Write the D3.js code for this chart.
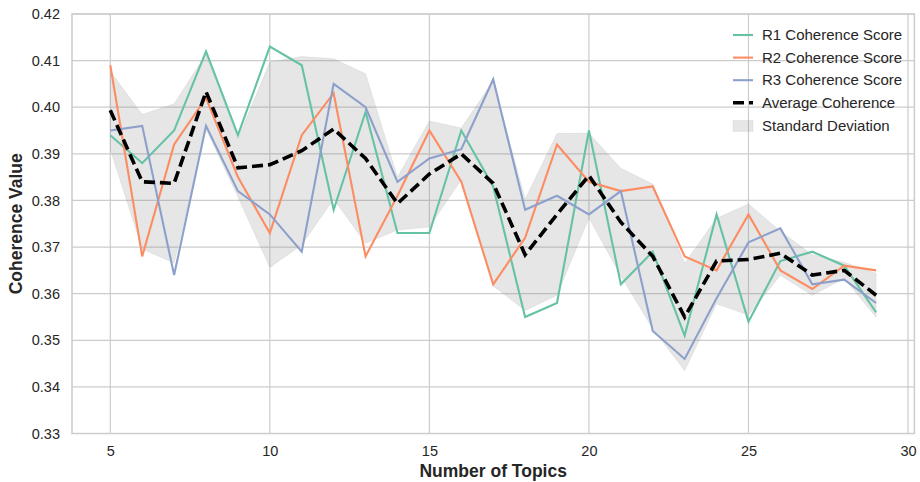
<!DOCTYPE html>
<html>
<head>
<meta charset="utf-8">
<script src="https://cdn.jsdelivr.net/npm/d3@7"></script>
<style>
  html, body { margin: 0; padding: 0; background: #fff; }
  svg { display: block; font-family: "Liberation Sans", Arial, sans-serif; }
</style>
</head>
<body>
<svg id="chart" width="920" height="482"></svg>
<script>
// ---- data ----
const topics = [5,6,7,8,9,10,11,12,13,14,15,16,17,18,19,20,21,22,23,24,25,26,27,28,29];
const r1 = [0.394,0.388,0.395,0.412,0.394,0.413,0.409,0.378,0.399,0.373,0.373,0.395,0.383,0.355,0.358,0.395,0.362,0.369,0.351,0.377,0.354,0.367,0.369,0.366,0.356];
const r2 = [0.409,0.368,0.392,0.402,0.385,0.373,0.394,0.403,0.368,0.381,0.395,0.384,0.362,0.372,0.392,0.384,0.382,0.383,0.368,0.365,0.377,0.365,0.361,0.366,0.365];
const r3 = [0.395,0.396,0.364,0.396,0.382,0.377,0.369,0.405,0.400,0.384,0.389,0.391,0.406,0.378,0.381,0.377,0.382,0.352,0.346,0.359,0.371,0.374,0.362,0.363,0.358];
const seriesNames = ["R1 Coherence Score","R2 Coherence Score","R3 Coherence Score"];
const seriesColors = ["#66c2a5","#fc8d62","#8da0cb"];
const xTicks = [5,10,15,20,25,30];
const yTicks = [0.33,0.34,0.35,0.36,0.37,0.38,0.39,0.40,0.41,0.42];

// derived: mean and sample std across runs
const runs = [r1, r2, r3];
const avg = topics.map((t,i) => d3.mean(runs, r => r[i]));
const sd = topics.map((t,i) => d3.deviation(runs, r => r[i]));

// ---- layout ----
const svg = d3.select("#chart");
const m = {left: 72, right: 5.6, top: 14, bottom: 48.5};
const W = 920, H = 482;
const x = d3.scaleLinear().domain([3.8, 30.2]).range([m.left, W - m.right]);
const y = d3.scaleLinear().domain([0.33, 0.42]).range([H - m.bottom, m.top]);
const textColor = "#262626";
const gridColor = "#cccccc";

// grid
const g = svg.append("g");
g.selectAll(".gx").data(xTicks).join("line")
  .attr("x1", d => x(d)).attr("x2", d => x(d))
  .attr("y1", y(0.33)).attr("y2", y(0.42))
  .attr("stroke", gridColor).attr("stroke-width", 1.2);
g.selectAll(".gy").data(yTicks).join("line")
  .attr("x1", x(3.8)).attr("x2", x(30.2))
  .attr("y1", d => y(d)).attr("y2", d => y(d))
  .attr("stroke", gridColor).attr("stroke-width", 1.2);

// frame
svg.append("rect")
  .attr("x", x(3.8)).attr("y", y(0.42))
  .attr("width", x(30.2) - x(3.8)).attr("height", y(0.33) - y(0.42))
  .attr("fill", "none").attr("stroke", gridColor).attr("stroke-width", 1.5);

// std band
const area = d3.area()
  .x((d,i) => x(topics[i]))
  .y0((d,i) => y(avg[i] - sd[i]))
  .y1((d,i) => y(avg[i] + sd[i]));
svg.append("path").datum(topics)
  .attr("d", area)
  .attr("fill", "gray").attr("fill-opacity", 0.2)
  .attr("stroke", "gray").attr("stroke-opacity", 0.12).attr("stroke-width", 1);

// series lines
const line = d3.line().x((d,i) => x(topics[i])).y(d => y(d));
runs.forEach((r, k) => {
  svg.append("path").datum(r)
    .attr("d", line)
    .attr("fill", "none")
    .attr("stroke", seriesColors[k])
    .attr("stroke-width", 2.1)
    .attr("stroke-linejoin", "miter");
});

// average
svg.append("path").datum(avg)
  .attr("d", line)
  .attr("fill", "none")
  .attr("stroke", "#000")
  .attr("stroke-width", 3.6)
  .attr("stroke-dasharray", "11,5");

// axes tick labels
const xAxis = d3.axisBottom(x).tickValues(xTicks).tickFormat(d3.format("d")).tickSize(0).tickPadding(12);
const xg = svg.append("g").attr("transform", `translate(0,${y(0.33)})`).call(xAxis);
xg.select(".domain").remove();
xg.selectAll("text").attr("fill", textColor).style("font-size", "14.5px").style("font-family", "Liberation Sans, Arial, sans-serif");

const yAxis = d3.axisLeft(y).tickValues(yTicks).tickFormat(d3.format(".2f")).tickSize(0).tickPadding(12);
const yg = svg.append("g").attr("transform", `translate(${x(3.8)},0)`).call(yAxis);
yg.select(".domain").remove();
yg.selectAll("text").attr("fill", textColor).style("font-size", "14.5px").style("font-family", "Liberation Sans, Arial, sans-serif");

// axis titles
svg.append("text")
  .attr("x", (x(3.8) + x(30.2)) / 2).attr("y", 477)
  .attr("text-anchor", "middle")
  .attr("fill", textColor).style("font-size", "17.5px").style("font-weight", "bold")
  .text("Number of Topics");
svg.append("text")
  .attr("transform", `translate(22,${(y(0.33) + y(0.42)) / 2}) rotate(-90)`)
  .attr("text-anchor", "middle")
  .attr("fill", textColor).style("font-size", "17.5px").style("font-weight", "bold")
  .text("Coherence Value");

// legend
const legendItems = [
  {label: seriesNames[0], type: "line", color: seriesColors[0]},
  {label: seriesNames[1], type: "line", color: seriesColors[1]},
  {label: seriesNames[2], type: "line", color: seriesColors[2]},
  {label: "Average Coherence", type: "dash", color: "#000"},
  {label: "Standard Deviation", type: "patch", color: "gray"}
];
const lg = svg.append("g").attr("transform", "translate(733,35)");
legendItems.forEach((it, i) => {
  const row = lg.append("g").attr("transform", `translate(0,${i * 22.6})`);
  if (it.type === "patch") {
    row.append("rect").attr("x", 0).attr("y", -5).attr("width", 20).attr("height", 11)
      .attr("fill", "gray").attr("fill-opacity", 0.2)
      .attr("stroke", "gray").attr("stroke-opacity", 0.12);
  } else {
    row.append("line").attr("x1", 0).attr("x2", 20).attr("y1", 0).attr("y2", 0)
      .attr("stroke", it.color)
      .attr("stroke-width", it.type === "dash" ? 3.6 : 2.1)
      .attr("stroke-dasharray", it.type === "dash" ? "11,5" : null);
  }
  row.append("text").attr("x", 29).attr("y", 0).attr("dy", "0.35em")
    .attr("fill", textColor).style("font-size", "15px")
    .text(it.label);
});
</script>
</body>
</html>
